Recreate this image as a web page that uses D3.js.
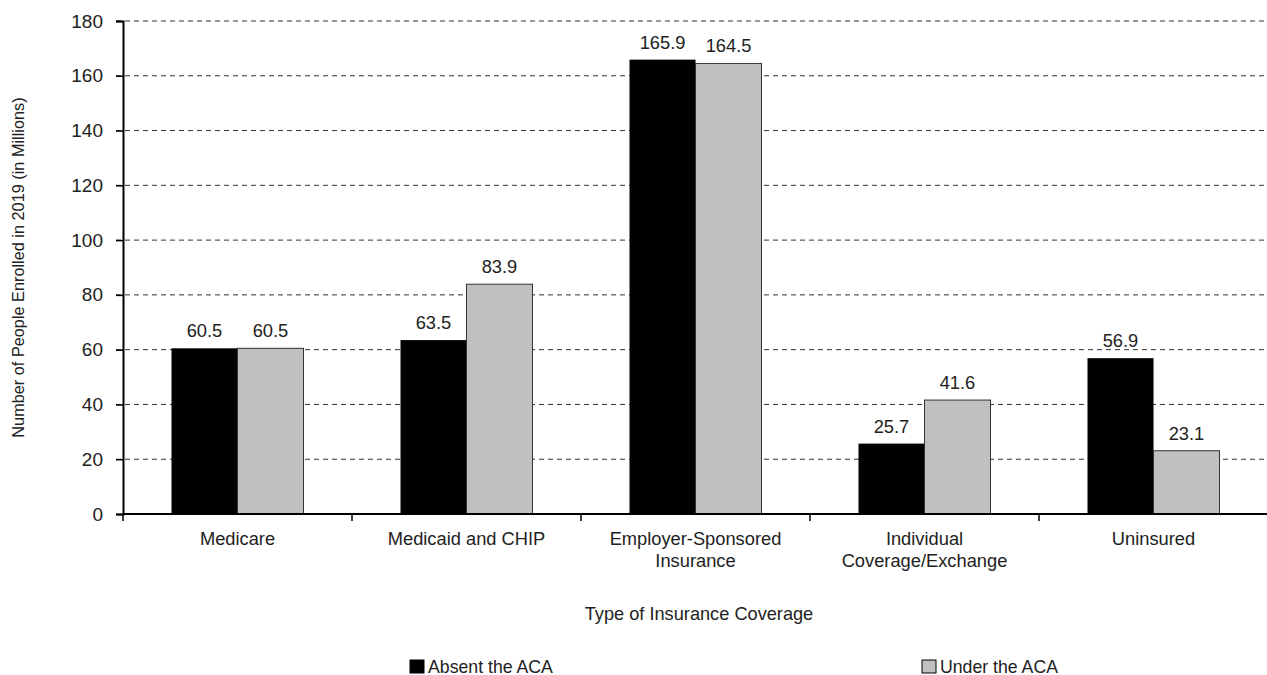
<!DOCTYPE html>
<html><head><meta charset="utf-8">
<script src="https://cdn.jsdelivr.net/npm/d3@7"></script>
<style>body{margin:0;background:#fff}svg{display:block}text{font-family:"Liberation Sans",Arial,sans-serif;fill:#222}</style>
</head><body><svg id="c" width="1267" height="675"></svg>
<script>
const categories = [["Medicare"],["Medicaid and CHIP"],["Employer-Sponsored","Insurance"],["Individual","Coverage/Exchange"],["Uninsured"]];
const seriesNames = ["Absent the ACA","Under the ACA"];
const absentACA = [60.5,63.5,165.9,25.7,56.9];
const underACA = [60.5,83.9,164.5,41.6,23.1];
const yTicks = [0,20,40,60,80,100,120,140,160,180];
const colors = ["#000000","#c0c0c0"];

const svg = d3.select("#c");
const L=123, R=1268, T=21, B=514;
const x0 = d3.scaleBand().domain(d3.range(categories.length)).range([L,R]).paddingInner(0).paddingOuter(0);
const x1 = d3.scaleBand().domain([0,1]).range([48.5, x0.bandwidth()-48.5]);
const y = d3.scaleLinear().domain([0,180]).range([B,T]);

// grid
svg.append("g").selectAll("line").data(yTicks.filter(d=>d>0)).join("line")
 .attr("x1",L-7).attr("x2",R).attr("y1",d=>y(d)).attr("y2",d=>y(d))
 .attr("stroke","#333").attr("stroke-width",1).attr("stroke-dasharray","5,4");

const series=[absentACA,underACA];
const g = svg.append("g");
categories.forEach((c,i)=>{
  series.forEach((s,j)=>{
    g.append("rect").attr("x",x0(i)+x1(j)).attr("y",y(s[i])).attr("width",x1.bandwidth()).attr("height",B-y(s[i]))
     .attr("fill",colors[j]).attr("stroke",j===1?"#333":"none").attr("stroke-width",1);
    g.append("text").attr("x",x0(i)+x1(j)+x1.bandwidth()/2).attr("y",y(s[i])-11).attr("text-anchor","middle")
     .attr("font-size",18.3).text(s[i].toFixed(1));
  });
});

// axes
const yAxis = svg.append("g").attr("transform",`translate(${L},0)`).call(d3.axisLeft(y).tickValues(yTicks).tickSize(7).tickPadding(13));
yAxis.select(".domain").attr("stroke","#000").attr("stroke-width",2);
yAxis.selectAll(".tick line").attr("stroke","#000").attr("stroke-width",1.5);
yAxis.selectAll(".tick text").attr("font-size",19).attr("font-family","'Liberation Sans',Arial,sans-serif").attr("fill","#222");

svg.append("line").attr("x1",L).attr("x2",R).attr("y1",B).attr("y2",B).attr("stroke","#000").attr("stroke-width",2);
svg.append("g").selectAll("line").data(d3.range(categories.length+1)).join("line")
 .attr("x1",d=>L+d*x0.step()).attr("x2",d=>L+d*x0.step()).attr("y1",B).attr("y2",B+7).attr("stroke","#000").attr("stroke-width",1.5);

categories.forEach((c,i)=>{
  const cx=x0(i)+x0.bandwidth()/2;
  const t=svg.append("text").attr("x",cx).attr("y",B+31).attr("text-anchor","middle").attr("font-size",18.3);
  c.forEach((line,k)=>t.append("tspan").attr("x",cx).attr("dy",k===0?0:21.5).text(line));
});

svg.append("text").attr("x",699).attr("y",620).attr("text-anchor","middle").attr("font-size",18.2).text("Type of Insurance Coverage");
svg.append("text").attr("transform",`translate(24,${(T+B)/2}) rotate(-90)`).attr("text-anchor","middle").attr("font-size",16.3).text("Number of People Enrolled in 2019 (in Millions)");

// legend
const legX=[410,922];
seriesNames.forEach((n,j)=>{
  svg.append("rect").attr("x",legX[j]).attr("y",660).attr("width",14).attr("height",13).attr("fill",colors[j]).attr("stroke","#000").attr("stroke-width",1);
  svg.append("text").attr("x",legX[j]+18).attr("y",672.5).attr("font-size",17.7).text(n);
});
</script></body></html>
